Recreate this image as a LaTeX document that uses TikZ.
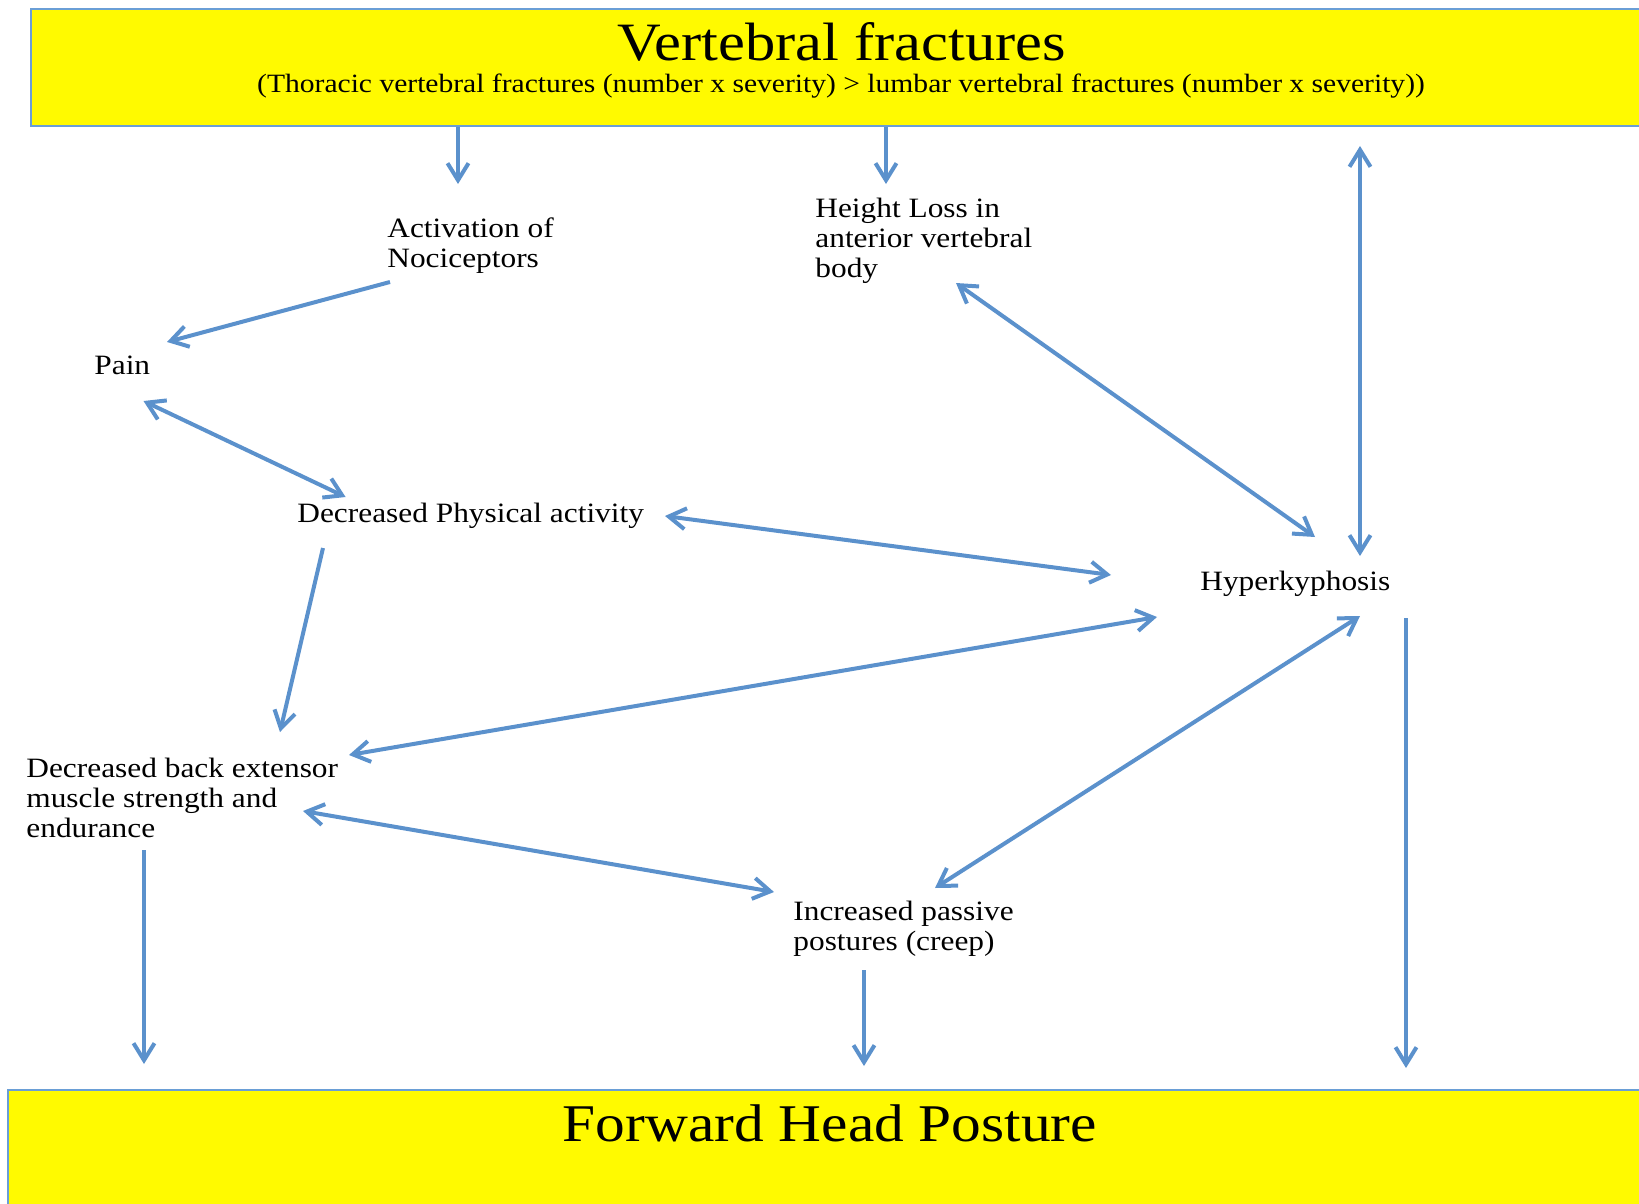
\documentclass[tikz,border=0pt]{standalone}
\usepackage{fontspec}
\setmainfont{Liberation Serif}[FakeStretch=1.12]
\usetikzlibrary{arrows.meta}
\definecolor{arr}{RGB}{91,145,204}
\definecolor{bord}{RGB}{106,158,214}
\definecolor{yel}{RGB}{255,250,0}
\begin{document}
\begin{tikzpicture}[x=0.5pt,y=-0.5pt,
  lbl/.style={anchor=base west,inner sep=0pt,align=left,font=\fontsize{14}{15}\selectfont},
  ybox/.style={draw=bord,fill=yel,line width=1pt,anchor=north west,inner sep=0pt},
  tip/.tip={Straight Barb[length=8.5pt,width=10.5pt]},
  conn/.style={draw=arr,line width=2pt,-tip},
  bconn/.style={draw=arr,line width=2pt,tip-tip}]
\useasboundingbox (0,0) rectangle (1639,1204);
\clip (0,0) rectangle (1639,1204);
% boxes
\node[ybox,minimum width=815pt,minimum height=58.5pt] (vf) at (30,8) {};
\node[anchor=base,inner sep=0pt,font=\fontsize{27}{29}\selectfont] (vft) at (842,61) {Vertebral fractures};
\node[anchor=base,inner sep=0pt,font=\fontsize{13.2}{15}\selectfont] (vfs) at (841,93) {(Thoracic vertebral fractures (number x severity) > lumbar vertebral fractures (number x severity))};
\node[ybox,minimum width=825pt,minimum height=60pt] (fhp) at (7,1089) {};
\node[anchor=base,inner sep=0pt,font=\fontsize{26.5}{28}\selectfont] (fhpt) at (830,1141) {Forward Head Posture};
% labels (base = last line baseline)
\node[lbl] (act) at (387,267) {Activation of\\Nociceptors};
\node[lbl] (pain) at (94,374) {Pain};
\node[lbl] (dpa) at (297,522) {Decreased Physical activity};
\node[lbl] (hl) at (815,277) {Height Loss in\\anterior vertebral\\body};
\node[lbl] (hyp) at (1200,590) {Hyperkyphosis};
\node[lbl] (dbe) at (26,837) {Decreased back extensor\\muscle strength and\\endurance};
\node[lbl] (ipp) at (793,950) {Increased passive\\postures (creep)};
% connector end points
\coordinate (actIn) at (458,184);
\coordinate (hlIn) at (886,184);
\coordinate (actOut) at (390,282);
\coordinate (painA) at (167,342);
\coordinate (painB) at (143.5,401);
\coordinate (dpaA) at (345.6,497);
\coordinate (dpaB) at (323,548);
\coordinate (dbeA) at (280,732);
\coordinate (dpaC) at (665,516);
\coordinate (hypA) at (1111,575);
\coordinate (hlA) at (956,283);
\coordinate (hypB) at (1315,537);
\coordinate (vfB) at (1360,146);
\coordinate (hypC) at (1360,556);
\coordinate (dbeB) at (349,755);
\coordinate (hypD) at (1157,617);
\coordinate (dbeC) at (303,811);
\coordinate (ippA) at (774,892);
\coordinate (ippB) at (935,888);
\coordinate (hypE) at (1360,616);
\coordinate (hypF) at (1406,618);
\coordinate (fhpA) at (1406,1068);
\coordinate (dbeD) at (144,850);
\coordinate (fhpB) at (144,1064);
\coordinate (ippC) at (864,970);
\coordinate (fhpC) at (864,1066);
% connectors
\draw[conn] (vf.south -| actIn) -- (actIn);
\draw[conn] (vf.south -| hlIn) -- (hlIn);
\draw[conn] (actOut) -- (painA);
\draw[bconn] (painB) -- (dpaA);
\draw[conn] (dpaB) -- (dbeA);
\draw[bconn] (dpaC) -- (hypA);
\draw[bconn] (hlA) -- (hypB);
\draw[bconn] (vfB) -- (hypC);
\draw[bconn] (dbeB) -- (hypD);
\draw[bconn] (dbeC) -- (ippA);
\draw[bconn] (ippB) -- (hypE);
\draw[conn] (hypF) -- (fhpA);
\draw[conn] (dbeD) -- (fhpB);
\draw[conn] (ippC) -- (fhpC);
\end{tikzpicture}
\end{document}
